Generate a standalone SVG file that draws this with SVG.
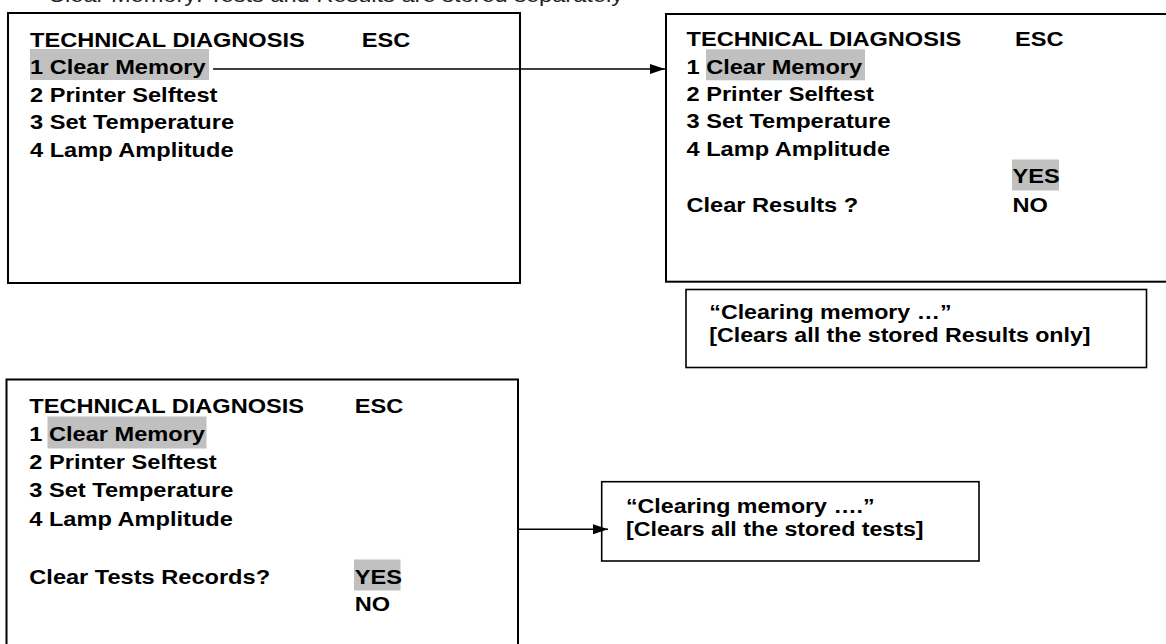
<svg xmlns="http://www.w3.org/2000/svg" width="1166" height="644" viewBox="0 0 1166 644">
  <style>
    .box { fill: #ffffff; stroke: #000000; stroke-width: 2; }
    .thin { fill: #ffffff; stroke: #000000; stroke-width: 1.6; }
    .hl { fill: #c0c0c0; stroke: none; }
    .t { font-family: "Liberation Sans", Arial, sans-serif; font-size: 20px; font-weight: bold; fill: #000000; }
    .n { font-family: "Liberation Sans", Arial, sans-serif; font-size: 20px; font-weight: normal; fill: #222222; }
    .conn { stroke: #000000; stroke-width: 1.6; fill: none; }
  </style>
  <defs>
    <marker id="arrow" markerUnits="userSpaceOnUse" markerWidth="15" markerHeight="10" refX="15" refY="5" orient="auto">
      <path d="M0,0 L15,5 L0,10 z" fill="#000000"/>
    </marker>
  </defs>
  <rect x="0" y="0" width="1166" height="644" fill="#ffffff"/>

  <text class="n" transform="translate(48,2) scale(1.18,1)">Clear Memory: Tests and Results are stored separately</text>

  <g id="screen-menu">
    <rect class="box" x="8" y="13" width="512" height="270"/>
    <rect class="hl" x="30" y="49" width="179" height="31"/>
    <text class="t" transform="translate(30,46.5) scale(1.18,1)">TECHNICAL DIAGNOSIS</text>
    <text class="t" transform="translate(361.7,46.5) scale(1.18,1)">ESC</text>
    <text class="t" transform="translate(30,74) scale(1.18,1)">1 Clear Memory</text>
    <text class="t" transform="translate(30,101.5) scale(1.18,1)">2 Printer Selftest</text>
    <text class="t" transform="translate(30,129) scale(1.18,1)">3 Set Temperature</text>
    <text class="t" transform="translate(30,156.5) scale(1.18,1)">4 Lamp Amplitude</text>
  </g>

  <g id="screen-clear-results">
    <rect class="box" x="666" y="14" width="520" height="267.7"/>
    <rect class="hl" x="706" y="49.3" width="159" height="31"/>
    <rect class="hl" x="1012" y="159.5" width="47" height="31"/>
    <text class="t" transform="translate(686.5,46) scale(1.18,1)">TECHNICAL DIAGNOSIS</text>
    <text class="t" transform="translate(1015,46) scale(1.18,1)">ESC</text>
    <text class="t" transform="translate(686.5,73.5) scale(1.18,1)">1 Clear Memory</text>
    <text class="t" transform="translate(686.5,101) scale(1.18,1)">2 Printer Selftest</text>
    <text class="t" transform="translate(686.5,128) scale(1.18,1)">3 Set Temperature</text>
    <text class="t" transform="translate(686.5,155.5) scale(1.18,1)">4 Lamp Amplitude</text>
    <text class="t" transform="translate(1012.5,183) scale(1.18,1)">YES</text>
    <text class="t" transform="translate(686.5,211.5) scale(1.18,1)">Clear Results ?</text>
    <text class="t" transform="translate(1012.5,211.5) scale(1.18,1)">NO</text>
  </g>

  <g id="note-results">
    <rect class="thin" x="686" y="289.5" width="460.5" height="78"/>
    <text class="t" transform="translate(709.3,319.3) scale(1.16,1)">“Clearing memory …”</text>
    <text class="t" transform="translate(709.3,341.7) scale(1.16,1)">[Clears all the stored Results only]</text>
  </g>

  <g id="screen-clear-tests">
    <rect class="box" x="6.5" y="379.5" width="511.5" height="300"/>
    <rect class="hl" x="47.5" y="416.5" width="159" height="32"/>
    <rect class="hl" x="354" y="559.5" width="46.5" height="31"/>
    <text class="t" transform="translate(29.3,412.5) scale(1.18,1)">TECHNICAL DIAGNOSIS</text>
    <text class="t" transform="translate(354.7,412.5) scale(1.18,1)">ESC</text>
    <text class="t" transform="translate(29.3,440.6) scale(1.18,1)">1 Clear Memory</text>
    <text class="t" transform="translate(29.3,469) scale(1.18,1)">2 Printer Selftest</text>
    <text class="t" transform="translate(29.3,497.4) scale(1.18,1)">3 Set Temperature</text>
    <text class="t" transform="translate(29.3,526) scale(1.18,1)">4 Lamp Amplitude</text>
    <text class="t" transform="translate(29.3,583.5) scale(1.18,1)">Clear Tests Records?</text>
    <text class="t" transform="translate(354.7,583.5) scale(1.18,1)">YES</text>
    <text class="t" transform="translate(354.7,611) scale(1.18,1)">NO</text>
  </g>

  <g id="note-tests">
    <rect class="thin" x="601.7" y="481.7" width="377.3" height="79.3"/>
    <text class="t" transform="translate(626,513.3) scale(1.16,1)">“Clearing memory ….”</text>
    <text class="t" transform="translate(626,536) scale(1.16,1)">[Clears all the stored tests]</text>
  </g>

  <g id="connectors">
    <line class="conn" x1="213" y1="69" x2="665" y2="69" marker-end="url(#arrow)"/>
    <line class="conn" x1="518" y1="529.3" x2="608" y2="529.3" marker-end="url(#arrow)"/>
  </g>
</svg>
